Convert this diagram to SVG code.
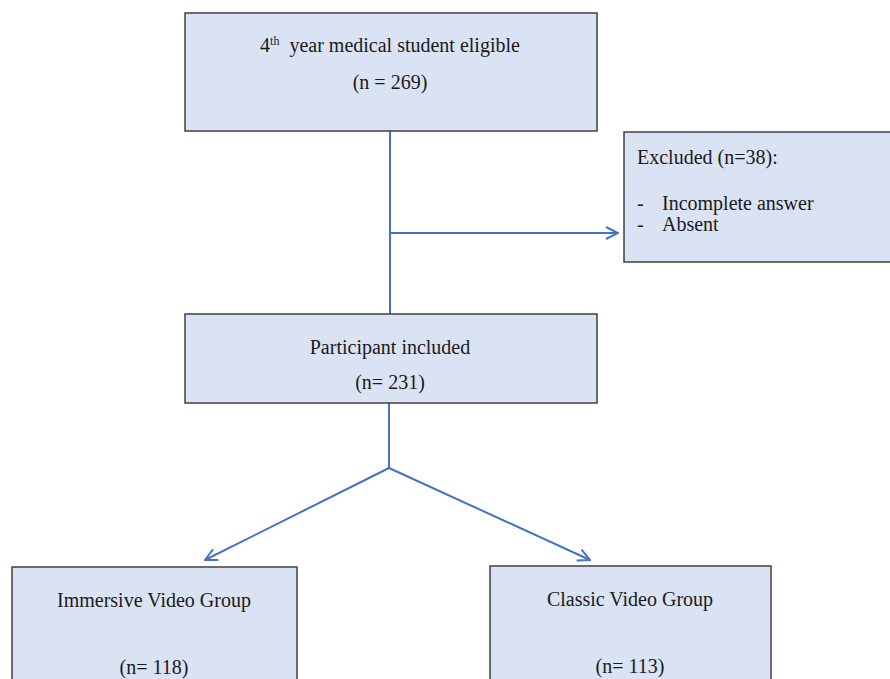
<svg xmlns="http://www.w3.org/2000/svg" width="890" height="679" viewBox="0 0 890 679">
<style>
.box{fill:#dae3f3;stroke:#404040;stroke-width:1.5}
.t{font-family:"Liberation Serif","DejaVu Serif",serif;font-size:20px;fill:#1a1a1a}
.c{text-anchor:middle}
.cn{stroke:#4472c4;stroke-width:2;fill:none}
</style>
<defs>
<marker id="ah" viewBox="0 0 14 14" refX="13" refY="7" markerWidth="14" markerHeight="14" markerUnits="userSpaceOnUse" orient="auto">
<path d="M1,1 L13,7 L1,13" fill="none" stroke="#4472c4" stroke-width="2"/>
</marker>
</defs>
<rect width="890" height="679" fill="#ffffff"/>
<g id="connectors">
<line class="cn" x1="390" y1="131" x2="390" y2="314"/>
<line class="cn" x1="390" y1="233" x2="618" y2="233" marker-end="url(#ah)"/>
<line class="cn" x1="389" y1="403" x2="389" y2="468"/>
<line class="cn" x1="389" y1="468" x2="205" y2="560" marker-end="url(#ah)"/>
<line class="cn" x1="389" y1="468" x2="590" y2="560" marker-end="url(#ah)"/>
</g>
<g id="eligible">
<rect class="box" x="185" y="13" width="412" height="118"/>
<text class="t c" x="390" y="52">4<tspan font-size="12" dy="-7">th</tspan><tspan dy="7">&#160; year medical student eligible</tspan></text>
<text class="t c" x="390" y="89">(n = 269)</text>
</g>
<g id="excluded">
<rect class="box" x="624" y="132" width="270" height="130"/>
<text class="t" x="637" y="164">Excluded (n=38):</text>
<text class="t" x="637" y="210">-</text>
<text class="t" x="662" y="210">Incomplete answer</text>
<text class="t" x="637" y="231">-</text>
<text class="t" x="662" y="231">Absent</text>
</g>
<g id="included">
<rect class="box" x="185" y="314" width="412" height="89"/>
<text class="t c" x="390" y="354">Participant included</text>
<text class="t c" x="390" y="389">(n= 231)</text>
</g>
<g id="immersive">
<rect class="box" x="12" y="567" width="285" height="120"/>
<text class="t c" x="154" y="607">Immersive Video Group</text>
<text class="t c" x="154" y="674">(n= 118)</text>
</g>
<g id="classic">
<rect class="box" x="490" y="566" width="281" height="120"/>
<text class="t c" x="630" y="606">Classic Video Group</text>
<text class="t c" x="630" y="673">(n= 113)</text>
</g>
</svg>
